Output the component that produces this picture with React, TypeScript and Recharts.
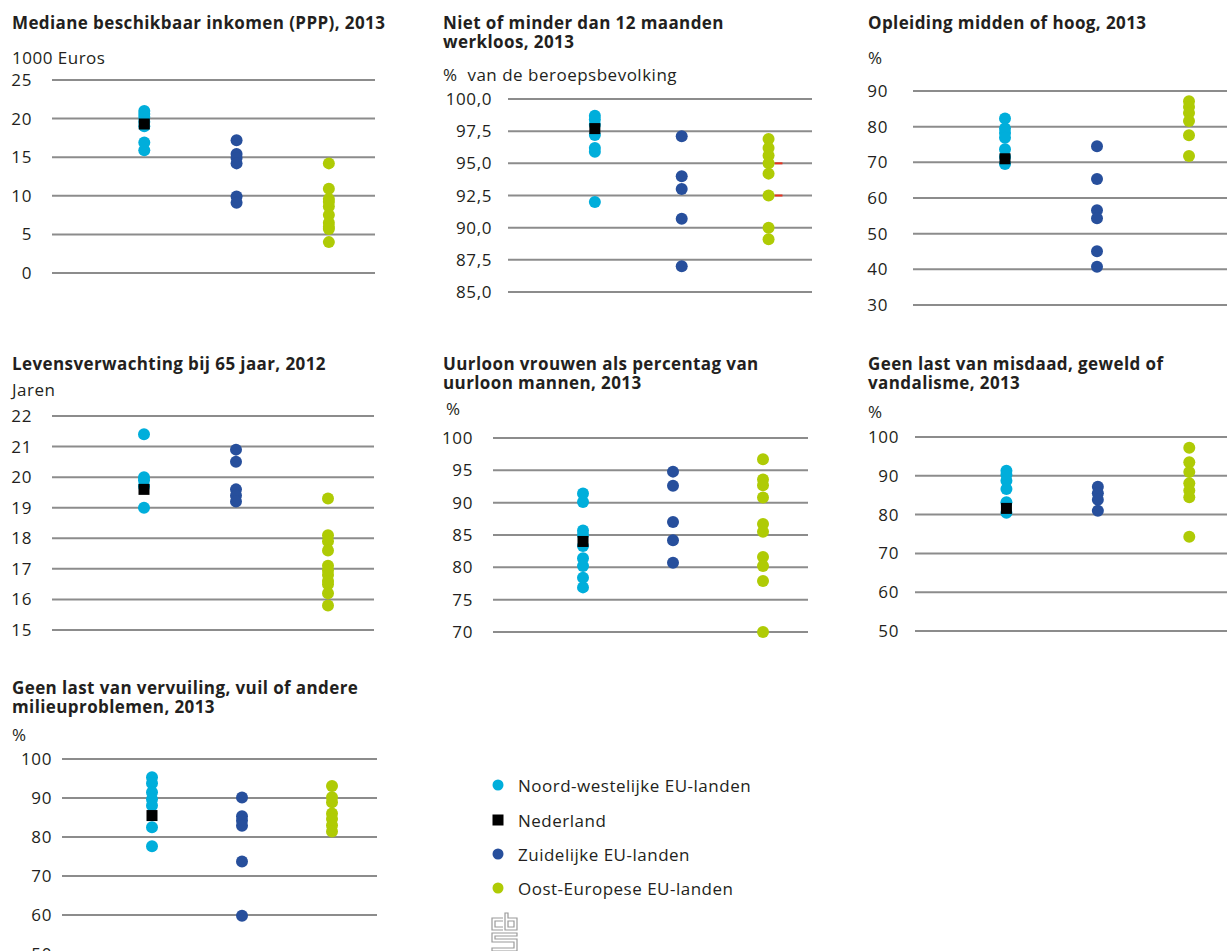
import React from "react";
import { CartesianGrid, ReferenceLine, Scatter, ScatterChart, XAxis, YAxis } from "recharts";

// groepen: Noord-west, Nederland, Zuid, Oost
const groupLabels = [
  "Noord-westelijke EU-landen",
  "Nederland",
  "Zuidelijke EU-landen",
  "Oost-Europese EU-landen",
];
const groupColors = ["#00aedb", "#000000", "#274f9c", "#afcb05"];
const groupColumn = [1, 1, 2, 3];

// Mediane beschikbaar inkomen (PPP), 2013 - 1000 euro
const inkomenNW = [21.0, 20.6, 20.2, 19.6, 19.0, 16.9, 15.9];
const inkomenNL = [19.3];
const inkomenZuid = [17.2, 15.4, 14.9, 14.2, 9.9, 9.1];
const inkomenOost = [14.2, 10.9, 9.6, 9.2, 8.6, 7.5, 6.5, 6.0, 5.7, 4.0];
const inkomenTicks = [0, 5, 10, 15, 20, 25];

// Niet of minder dan 12 maanden werkloos, 2013 - % beroepsbevolking
const werkNW = [98.7, 98.4, 98.0, 97.2, 96.2, 95.9, 92.0];
const werkNL = [97.7];
const werkZuid = [97.1, 94.0, 93.0, 90.7, 87.0];
const werkOost = [96.9, 96.2, 95.6, 95.0, 94.2, 92.5, 90.0, 89.1];
const werkTicks = [85, 87.5, 90, 92.5, 95, 97.5, 100];
// kleine rode streepjes naast de Oost-Europese kolom
const werkRed = [95.0, 92.5];

// Opleiding midden of hoog, 2013 - %
const opleidingNW = [82.3, 79.5, 78.2, 76.9, 73.7, 71.5, 69.5];
const opleidingNL = [71.0];
const opleidingZuid = [74.5, 65.3, 56.6, 54.3, 45.1, 40.7];
const opleidingOost = [87.1, 85.5, 83.8, 81.6, 77.6, 71.8];
const opleidingTicks = [30, 40, 50, 60, 70, 80, 90];

// Levensverwachting bij 65 jaar, 2012 - jaren
const levensNW = [21.4, 20.0, 19.9, 19.7, 19.0];
const levensNL = [19.6];
const levensZuid = [20.9, 20.5, 19.6, 19.4, 19.2];
const levensOost = [19.3, 18.1, 17.9, 17.6, 17.1, 16.95, 16.8, 16.6, 16.5, 16.2, 15.8];
const levensTicks = [15, 16, 17, 18, 19, 20, 21, 22];

// Uurloon vrouwen als percentage van uurloon mannen, 2013
const uurloonNW = [91.4, 90.1, 85.7, 85.0, 83.3, 81.4, 80.2, 78.4, 76.9];
const uurloonNL = [84.0];
const uurloonZuid = [94.8, 92.6, 87.0, 84.2, 80.7];
const uurloonOost = [96.7, 93.6, 92.7, 90.8, 86.7, 85.5, 81.6, 80.2, 77.9, 70.0];
const uurloonTicks = [70, 75, 80, 85, 90, 95, 100];

// Geen last van misdaad, geweld of vandalisme, 2013
const misdaadNW = [91.3, 90.3, 88.7, 86.6, 83.2, 80.5];
const misdaadNL = [81.6];
const misdaadZuid = [87.2, 85.5, 83.8, 81.0];
const misdaadOost = [97.2, 93.5, 91.0, 88.1, 86.2, 84.5, 74.3];
const misdaadTicks = [50, 60, 70, 80, 90, 100];

// Geen last van vervuiling, vuil of andere milieuproblemen, 2013
const vervuilingNW = [95.3, 93.8, 91.5, 89.7, 88.1, 82.5, 77.6];
const vervuilingNL = [85.5];
const vervuilingZuid = [90.1, 85.3, 84.2, 82.9, 73.7, 59.8];
const vervuilingOost = [93.1, 90.2, 88.9, 86.0, 84.6, 83.0, 81.4];
const vervuilingTicks = [50, 60, 70, 80, 90, 100];

const FONT = '"Open Sans", "Noto Sans", sans-serif';
const TEXT = "#231f20";
const GRID = "#8c8c8c";

interface PanelDef {
  title: string[];
  unit: string;
  series: number[][];
  ticks: number[];
  decimals: number;
  red?: number[];
  left: number;
  width: number;
  plotTop: number;
  plotBottom: number;
  yAxisWidth: number;
  tickGap: number;
  titleLeft: number;
  titleY: number;
  unitLeft: number;
  unitY: number;
}

const panels: PanelDef[] = [
  {
    title: ["Mediane beschikbaar inkomen (PPP), 2013"],
    unit: "1000 Euros",
    series: [inkomenNW, inkomenNL, inkomenZuid, inkomenOost],
    ticks: inkomenTicks, decimals: 0,
    left: 0, width: 375, plotTop: 80, plotBottom: 273, yAxisWidth: 52, tickGap: 20,
    titleLeft: 12, titleY: 22, unitLeft: 12, unitY: 58,
  },
  {
    title: ["Niet of minder dan 12 maanden", "werkloos, 2013"],
    unit: "%  van de beroepsbevolking",
    series: [werkNW, werkNL, werkZuid, werkOost],
    ticks: werkTicks, decimals: 1, red: werkRed,
    left: 420, width: 392, plotTop: 99, plotBottom: 292, yAxisWidth: 88, tickGap: 16,
    titleLeft: 443, titleY: 22, unitLeft: 443, unitY: 75,
  },
  {
    title: ["Opleiding midden of hoog, 2013"],
    unit: "%",
    series: [opleidingNW, opleidingNL, opleidingZuid, opleidingOost],
    ticks: opleidingTicks, decimals: 0,
    left: 850, width: 385, plotTop: 91, plotBottom: 305, yAxisWidth: 63, tickGap: 25,
    titleLeft: 868, titleY: 22, unitLeft: 868, unitY: 58,
  },
  {
    title: ["Levensverwachting bij 65 jaar, 2012"],
    unit: "Jaren",
    series: [levensNW, levensNL, levensZuid, levensOost],
    ticks: levensTicks, decimals: 0,
    left: 0, width: 374, plotTop: 416, plotBottom: 630, yAxisWidth: 52, tickGap: 20,
    titleLeft: 12, titleY: 363, unitLeft: 12, unitY: 390,
  },
  {
    title: ["Uurloon vrouwen als percentag van", "uurloon mannen, 2013"],
    unit: "%",
    series: [uurloonNW, uurloonNL, uurloonZuid, uurloonOost],
    ticks: uurloonTicks, decimals: 0,
    left: 420, width: 388, plotTop: 438, plotBottom: 632, yAxisWidth: 73, tickGap: 20,
    titleLeft: 443, titleY: 363, unitLeft: 446, unitY: 409,
  },
  {
    title: ["Geen last van misdaad, geweld of", "vandalisme, 2013"],
    unit: "%",
    series: [misdaadNW, misdaadNL, misdaadZuid, misdaadOost],
    ticks: misdaadTicks, decimals: 0,
    left: 850, width: 385, plotTop: 437, plotBottom: 631, yAxisWidth: 65, tickGap: 16,
    titleLeft: 868, titleY: 363, unitLeft: 868, unitY: 412,
  },
  {
    title: ["Geen last van vervuiling, vuil of andere", "milieuproblemen, 2013"],
    unit: "%",
    series: [vervuilingNW, vervuilingNL, vervuilingZuid, vervuilingOost],
    ticks: vervuilingTicks, decimals: 0,
    left: 0, width: 377, plotTop: 759, plotBottom: 954, yAxisWidth: 62, tickGap: 10,
    titleLeft: 12, titleY: 687, unitLeft: 12, unitY: 735,
  },
];

const PAD = 12;

const dot = (color: string) => (p: any) => (
  <circle cx={p.cx} cy={p.cy} r={6} fill={color} />
);
const square = (p: any) => (
  <rect x={p.cx - 5.5} y={p.cy - 5.5} width={11} height={11} fill="#000" />
);

function Panel({ def }: { def: PanelDef }) {
  const height = def.plotBottom - def.plotTop + PAD * 2;
  const fmt = (v: number) => v.toFixed(def.decimals).replace(".", ",");
  const domain = [def.ticks[0], def.ticks[def.ticks.length - 1]];
  return (
    <>
      <div
        style={{
          position: "absolute", left: def.titleLeft, top: def.titleY - 9.5,
          fontWeight: 700, fontSize: 17, lineHeight: "19px", letterSpacing: 0.4,
          color: TEXT, whiteSpace: "nowrap",
        }}
      >
        {def.title.map((t) => (
          <div key={t}>{t}</div>
        ))}
      </div>
      <div
        style={{
          position: "absolute", left: def.unitLeft, top: def.unitY - 10,
          fontSize: 17, lineHeight: "20px", letterSpacing: 0.5, color: TEXT, whiteSpace: "pre",
        }}
      >
        {def.unit}
      </div>
      <div style={{ position: "absolute", left: def.left, top: def.plotTop - PAD }}>
        <ScatterChart width={def.width} height={height} margin={{ top: PAD, right: 0, bottom: PAD, left: 0 }}>
          <CartesianGrid vertical={false} stroke={GRID} strokeWidth={2} />
          <XAxis type="number" dataKey="x" domain={[0, 3.5]} hide />
          <YAxis
            type="number"
            dataKey="y"
            domain={domain}
            ticks={def.ticks}
            interval={0}
            axisLine={false}
            tickLine={false}
            tickSize={0}
            tickMargin={def.tickGap}
            width={def.yAxisWidth}
            tickFormatter={fmt}
            tick={{ fill: TEXT, fontSize: 17, letterSpacing: 0.6 }}
          />
          {(def.red || []).map((v) => (
            <ReferenceLine
              key={v}
              segment={[{ x: 3.07, y: v }, { x: 3.16, y: v }]}
              stroke="#e8321e"
              strokeWidth={2}
            />
          ))}
          {[0, 2, 3, 1].map((g) => (
            <Scatter
              key={g}
              name={groupLabels[g]}
              data={def.series[g].map((v) => ({ x: groupColumn[g], y: v }))}
              fill={groupColors[g]}
              shape={g === 1 ? square : dot(groupColors[g])}
              isAnimationActive={false}
            />
          ))}
        </ScatterChart>
      </div>
    </>
  );
}

function Legend() {
  const rows = [785, 820, 854, 888];
  return (
    <>
      {groupLabels.map((label, i) => (
        <div
          key={label}
          style={{
            position: "absolute", left: 492, top: rows[i] - 10, height: 20,
            display: "flex", alignItems: "center", fontSize: 17, letterSpacing: 0.5,
            color: TEXT, whiteSpace: "nowrap",
          }}
        >
          <svg width={26} height={20}>
            {i === 1 ? (
              <rect x={0.5} y={4.5} width={11} height={11} fill="#000" />
            ) : (
              <circle cx={6} cy={10} r={5.5} fill={groupColors[i]} />
            )}
          </svg>
          <span>{label}</span>
        </div>
      ))}
      <svg
        style={{ position: "absolute", left: 491, top: 912 }}
        width={28}
        height={40}
        fill="none"
        stroke="#9a9a9a"
        strokeWidth={1.2}
      >
        <path d="M12 6 H1 V18 H12 M12 9 H4 V15 H12" />
        <path d="M14 1 V18 H26 V6 H17 V1 Z M17 9 H23 V15 H17 Z" />
        <path d="M26 21 H1 V30 H23 V36 H1 V39 H26 V27 H4 V24 H26 Z" />
      </svg>
    </>
  );
}

export default function App() {
  return (
    <div
      style={{
        position: "fixed", left: 0, top: 0, width: 1227, height: 951, overflow: "hidden",
        background: "#fff", fontFamily: FONT,
      }}
    >
      {panels.map((p) => (
        <Panel key={p.title[0]} def={p} />
      ))}
      <Legend />
    </div>
  );
}
